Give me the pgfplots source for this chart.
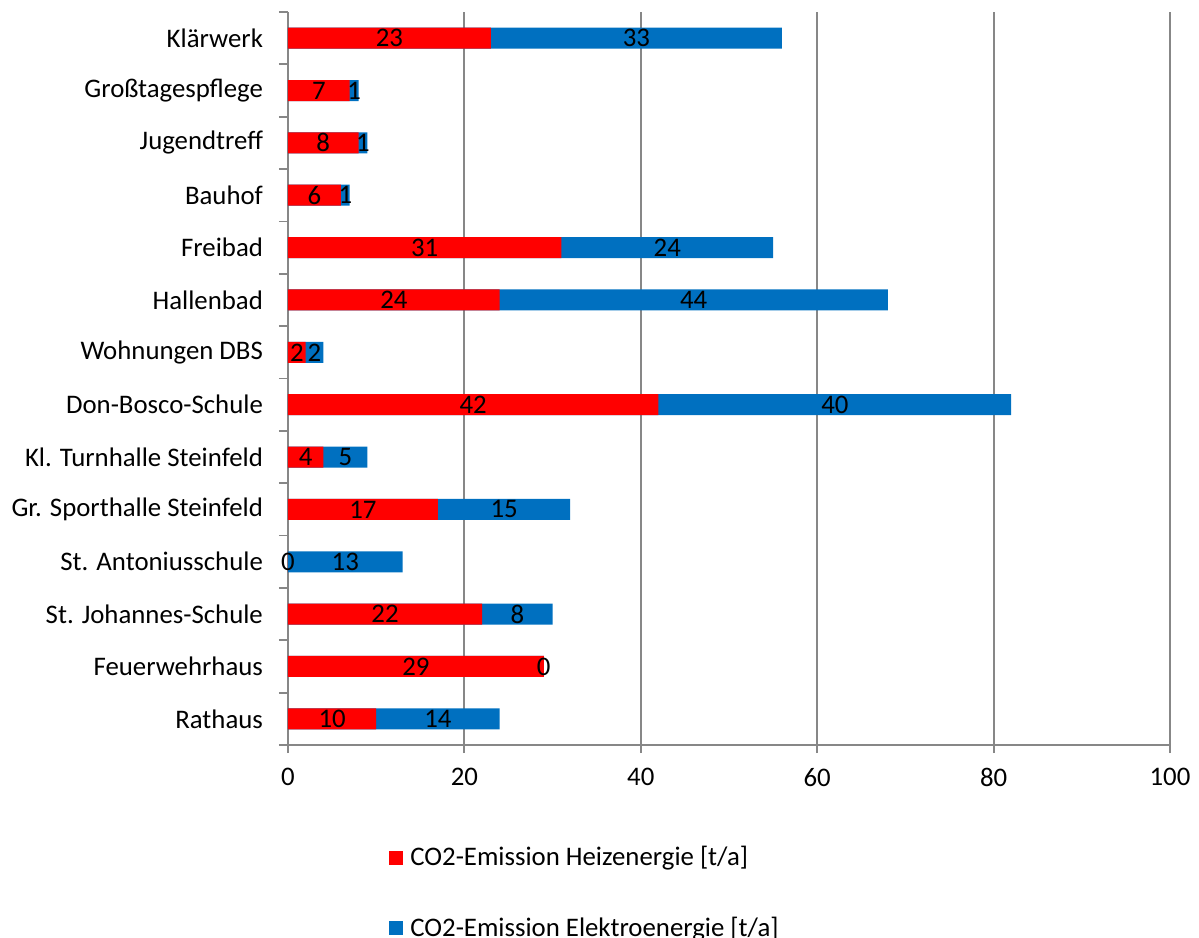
\documentclass[border=0pt]{standalone}
\usepackage{pgfplots}
\pgfplotsset{compat=1.18}
\usepackage{pgfplotstable}
\usepackage{fontspec}
\setmainfont{Carlito}
\definecolor{heiz}{HTML}{FF0000}
\definecolor{elek}{HTML}{0070C0}
\definecolor{gridgray}{HTML}{878787}
\pgfplotstableread{
y red blue
0 10 14
1 29 0
2 22 8
3 0 13
4 17 15
5 4 5
6 42 40
7 2 2
8 24 44
9 31 24
10 6 1
11 8 1
12 7 1
13 23 33
}\datatable
\begin{document}
\begin{tikzpicture}
\useasboundingbox (-144pt,-96pt) rectangle (455.5pt,372.5pt);
\begin{axis}[
  at={(0,0)}, anchor=south west,
  scale only axis, width=441pt, height=366.5pt,
  xmin=0, xmax=100, ymin=-0.5, ymax=13.5,
  axis lines=left, axis line style={-, draw=gridgray, line width=0.9pt},
  xtick={0,20,...,100},
  ytick={0,...,13},
  yticklabels={Rathaus,Feuerwehrhaus,St. Johannes-Schule,St. Antoniusschule,Gr. Sporthalle Steinfeld,Kl. Turnhalle Steinfeld,Don-Bosco-Schule,Wohnungen DBS,Hallenbad,Freibad,Bauhof,Jugendtreff,Großtagespflege,Klärwerk},
  minor ytick={-0.5,0.5,...,13.5},
  ytick style={draw=none},
  minor y tick style={draw=gridgray, line width=0.9pt},
  minor tick length=4.5pt,
  xtick style={draw=gridgray, line width=0.9pt},
  major tick length=4pt,
  tick align=outside,
  xmajorgrids, major grid style={draw=gridgray, line width=0.9pt},
  ticklabel style={font=\fontsize{13.4}{16}\selectfont},
  /pgf/number format/assume math mode=true,
  yticklabel style={xshift=-5pt},
  xticklabel style={yshift=-4pt},
  clip=false,
  legend style={draw=none, fill=none, at={(0.1145,-0.1323)}, anchor=north west,
    font=\fontsize{13.4}{16}\selectfont, row sep=20pt, inner sep=0pt,
    legend cell align=left},
  legend image code/.code={\fill[#1] (0pt,-3.5pt) rectangle (7pt,3.5pt); \path (8.5pt,0pt);},
  every node near coord/.style={anchor=center, font=\fontsize{13.4}{16}\selectfont, text=black},
]
\addplot[xbar, bar width=10.5pt, bar shift=0pt, fill=elek, draw=none, forget plot]
  table[y=y, x expr=\thisrow{red}+\thisrow{blue}] {\datatable};
\addplot[xbar, bar width=10.5pt, bar shift=0pt, fill=heiz, draw=none]
  table[y=y, x=red] {\datatable};
\addlegendentry{CO2-Emission Heizenergie [t/a]}
\addlegendimage{fill=elek, draw=none}
\addlegendentry{CO2-Emission Elektroenergie [t/a]}
\addplot[sharp plot, draw=none, mark=none, forget plot, nodes near coords, point meta=explicit symbolic]
  table[y=y, x expr=\thisrow{red}/2, meta=red] {\datatable};
\addplot[sharp plot, draw=none, mark=none, forget plot, nodes near coords, point meta=explicit symbolic]
  table[y=y, x expr=\thisrow{red}+\thisrow{blue}/2, meta=blue] {\datatable};
\end{axis}
\end{tikzpicture}
\end{document}
